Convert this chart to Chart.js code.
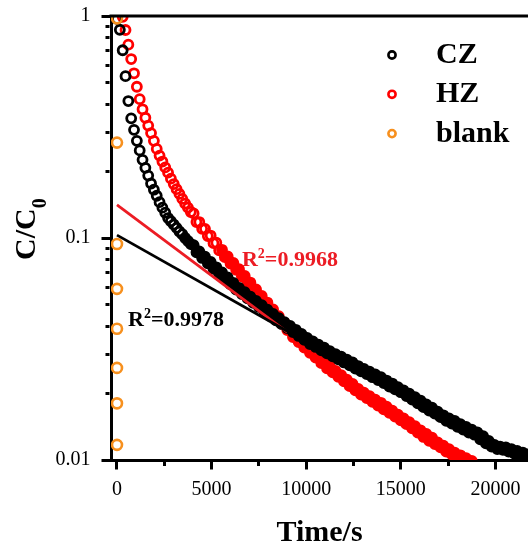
<!DOCTYPE html>
<html>
<head>
<meta charset="utf-8">
<script src="https://cdn.jsdelivr.net/npm/chart.js@4.4.0/dist/chart.umd.min.js"></script>
<style>
  html, body { margin: 0; padding: 0; background: #fff; }
  canvas { display: block; }
</style>
</head>
<body>
<canvas id="chart" width="528" height="552"></canvas>
<script>
// Time (s) vs C/C0 (one row = 10 samples).
// Later points scatter a little around the trend, which is what makes the bands thick.
const czTime = [
  0, 150, 300, 450, 600, 750, 900, 1050, 1200, 1350,
  1500, 1650, 1800, 1950, 2100, 2250, 2400, 2550, 2700, 2850,
  3000, 3150, 3300, 3450, 3600, 3750, 3900, 4050, 4200, 4350,
  4500, 4650, 4800, 4950, 5100, 5250, 5400, 5550, 5700, 5850,
  6000, 6150, 6300, 6450, 6600, 6750, 6900, 7050, 7200, 7350,
  7500, 7650, 7800, 7950, 8100, 8250, 8400, 8550, 8700, 8850,
  9000, 9150, 9300, 9450, 9600, 9750, 9900, 10050, 10200, 10350,
  10500, 10650, 10800, 10950, 11100, 11250, 11400, 11550, 11700, 11850,
  12000, 12150, 12300, 12450, 12600, 12750, 12900, 13050, 13200, 13350,
  13500, 13650, 13800, 13950, 14100, 14250, 14400, 14550, 14700, 14850,
  15000, 15150, 15300, 15450, 15600, 15750, 15900, 16050, 16200, 16350,
  16500, 16650, 16800, 16950, 17100, 17250, 17400, 17550, 17700, 17850,
  18000, 18150, 18300, 18450, 18600, 18750, 18900, 19050, 19200, 19350,
  19500, 19650, 19800, 19950, 20100, 20250, 20400, 20550, 20700, 20850,
  21000, 21150, 21300, 21450, 21600, 21750,
];
const czC = [
  0.97, 0.867, 0.701, 0.536, 0.414, 0.346, 0.307, 0.274, 0.248, 0.225,
  0.207, 0.191, 0.176, 0.165, 0.155, 0.145, 0.137, 0.130, 0.123, 0.119,
  0.115, 0.111, 0.107, 0.104, 0.100, 0.0969, 0.0939, 0.0929, 0.0862, 0.0871,
  0.0813, 0.0824, 0.0769, 0.0780, 0.0727, 0.0738, 0.0690, 0.0700, 0.0653, 0.0664,
  0.0619, 0.0628, 0.0585, 0.0596, 0.0559, 0.0570, 0.0535, 0.0544, 0.0510, 0.0521,
  0.0489, 0.0498, 0.0466, 0.0476, 0.0445, 0.0455, 0.0426, 0.0436, 0.0409, 0.0418,
  0.0393, 0.0402, 0.0377, 0.0386, 0.0362, 0.0370, 0.0348, 0.0355, 0.0333, 0.0342,
  0.0323, 0.0331, 0.0312, 0.0321, 0.0302, 0.0309, 0.0293, 0.0300, 0.0284, 0.0292,
  0.0275, 0.0283, 0.0267, 0.0275, 0.0258, 0.0265, 0.0251, 0.0257, 0.0244, 0.0250,
  0.0236, 0.0243, 0.0229, 0.0236, 0.0222, 0.0228, 0.0214, 0.0221, 0.0208, 0.0213,
  0.0202, 0.0206, 0.0194, 0.0199, 0.0187, 0.0192, 0.0180, 0.0185, 0.0173, 0.0178,
  0.0167, 0.0172, 0.0162, 0.0165, 0.0156, 0.0159, 0.0150, 0.0154, 0.0146, 0.0150,
  0.0141, 0.0145, 0.0137, 0.0141, 0.0133, 0.0137, 0.0130, 0.0133, 0.0124, 0.0128,
  0.0119, 0.0122, 0.0115, 0.0117, 0.0112, 0.0115, 0.0111, 0.0114, 0.0109, 0.0112,
  0.0107, 0.0110, 0.0105, 0.0108, 0.0103, 0.0106,
];

const hzTime = [
  300, 450, 600, 750, 900, 1050, 1200, 1350, 1500, 1650,
  1800, 1950, 2100, 2250, 2400, 2550, 2700, 2850, 3000, 3150,
  3300, 3450, 3600, 3750, 3900, 4050, 4200, 4350, 4500, 4650,
  4800, 4950, 5100, 5250, 5400, 5550, 5700, 5850, 6000, 6150,
  6300, 6450, 6600, 6750, 6900, 7050, 7200, 7350, 7500, 7650,
  7800, 7950, 8100, 8250, 8400, 8550, 8700, 8850, 9000, 9150,
  9300, 9450, 9600, 9750, 9900, 10050, 10200, 10350, 10500, 10650,
  10800, 10950, 11100, 11250, 11400, 11550, 11700, 11850, 12000, 12150,
  12300, 12450, 12600, 12750, 12900, 13050, 13200, 13350, 13500, 13650,
  13800, 13950, 14100, 14250, 14400, 14550, 14700, 14850, 15000, 15150,
  15300, 15450, 15600, 15750, 15900, 16050, 16200, 16350, 16500, 16650,
  16800, 16950, 17100, 17250, 17400, 17550, 17700, 17850, 18000, 18150,
  18300, 18450, 18600, 18750,
];
const hzC = [
  0.991, 0.865, 0.743, 0.640, 0.552, 0.480, 0.422, 0.380, 0.348, 0.321,
  0.297, 0.274, 0.252, 0.235, 0.221, 0.208, 0.197, 0.185, 0.175, 0.166,
  0.158, 0.150, 0.143, 0.137, 0.131, 0.129, 0.118, 0.118, 0.110, 0.110,
  0.102, 0.1026, 0.0948, 0.0953, 0.0880, 0.0885, 0.0820, 0.0827, 0.0767, 0.0773,
  0.0718, 0.0723, 0.0670, 0.0675, 0.0625, 0.0630, 0.0583, 0.0587, 0.0544, 0.0548,
  0.0508, 0.0512, 0.0473, 0.0477, 0.0442, 0.0445, 0.0412, 0.0415, 0.0385, 0.0387,
  0.0358, 0.0363, 0.0340, 0.0344, 0.0321, 0.0326, 0.0304, 0.0309, 0.0289, 0.0293,
  0.0273, 0.0278, 0.0259, 0.0264, 0.0248, 0.0252, 0.0237, 0.0241, 0.0226, 0.0230,
  0.0215, 0.0220, 0.0206, 0.0209, 0.0197, 0.0201, 0.0190, 0.0194, 0.0183, 0.0187,
  0.0176, 0.0181, 0.0169, 0.0174, 0.0163, 0.0167, 0.0157, 0.0160, 0.0151, 0.0154,
  0.0145, 0.0148, 0.0139, 0.0142, 0.0133, 0.0136, 0.0127, 0.0131, 0.0122, 0.0126,
  0.0118, 0.0120, 0.0114, 0.0116, 0.0109, 0.0112, 0.0106, 0.0108, 0.0103, 0.0105,
  0.0099, 0.0102, 0.0096, 0.0099,
];

const blankTime = [0, 0, 0, 0, 0, 0, 0, 0];
const blankC = [0.976, 0.269, 0.094, 0.059, 0.039, 0.026, 0.018, 0.0117];

// Linear fits (straight on the log axis)
const czFitTime = [0, 9500];
const czFitC = [0.103, 0.036];
const hzFitTime = [0, 9000];
const hzFitC = [0.141, 0.0377];

// R^2 labels: [time, C/C0] of the left end of the text baseline
const czR2 = { text: '0.9978', at: [581, 0.0402] };
const hzR2 = { text: '0.9968', at: [6606, 0.0748] };

const xTicks = [0, 2500, 5000, 7500, 10000, 12500, 15000, 17500, 20000];
const xLabels = [0, 5000, 10000, 15000, 20000];
const yTicks = [
  0.01, 0.02, 0.03, 0.04, 0.05, 0.06, 0.07, 0.08, 0.09,
  0.1, 0.2, 0.3, 0.4, 0.5, 0.6, 0.7, 0.8, 0.9, 1,
];
const yLabels = [0.01, 0.1, 1];

const SERIF = "'Liberation Serif', 'Times New Roman', serif";
const BLACK = '#000000';
const RED = '#ff0000';
const FIT_RED = '#ec1c24';
const ORANGE = '#f7901e';

// where the overlapping rings merge into a solid band (s)
const CZ_SOLID_FROM = 3500;
const HZ_SOLID_FROM = 5500;

const toPoints = (xs, ys) => xs.map((x, i) => ({ x, y: ys[i] }));

const ringStyle = (color, solidFrom = Infinity) => ({
  showLine: false,
  pointStyle: 'circle',
  pointRadius: 4.5,
  pointBorderWidth: 2.8,
  pointBorderColor: color,
  pointBackgroundColor: (ctx) => (ctx.raw && ctx.raw.x >= solidFrom ? color : 'rgba(0,0,0,0)'),
  borderColor: color,
  clip: 0,
});

const drawR2 = (ctx, x, y, value, color) => {
  ctx.fillStyle = color;
  ctx.textBaseline = 'alphabetic';
  ctx.textAlign = 'left';
  ctx.font = `bold 22px ${SERIF}`;
  ctx.fillText('R', x, y);
  let w = ctx.measureText('R').width;
  ctx.font = `bold 14px ${SERIF}`;
  ctx.fillText('2', x + w, y - 8);
  w += ctx.measureText('2').width;
  ctx.font = `bold 22px ${SERIF}`;
  ctx.fillText(`=${value}`, x + w, y);
};

// no extra room for the edge tick labels: keep the plot box fixed
const noPad = (scale) => {
  scale.paddingLeft = 0;
  scale.paddingRight = 0;
  scale.paddingTop = 0;
  scale.paddingBottom = 0;
};

// frame top line, y title, R^2 texts and legend
const overlay = {
  id: 'overlay',
  afterDatasetsDraw(chart) {
    const { ctx, chartArea, scales } = chart;
    ctx.save();
    ctx.strokeStyle = BLACK;
    ctx.lineWidth = 3;
    ctx.beginPath();
    ctx.moveTo(chartArea.left - 1.5, chartArea.top);
    ctx.lineTo(chartArea.right, chartArea.top);
    ctx.stroke();

    // y title C/C0 with subscript
    ctx.translate(35, chartArea.top + 244);
    ctx.rotate(-Math.PI / 2);
    ctx.fillStyle = BLACK;
    ctx.textAlign = 'left';
    ctx.textBaseline = 'alphabetic';
    ctx.font = `bold 30px ${SERIF}`;
    ctx.fillText('C/C', 0, 0);
    const w = ctx.measureText('C/C').width;
    ctx.font = `bold 20px ${SERIF}`;
    ctx.fillText('0', w, 11);
    ctx.restore();

    ctx.save();
    [[czR2, BLACK], [hzR2, FIT_RED]].forEach(([lab, color]) => {
      const px = scales.x.getPixelForValue(lab.at[0]);
      const py = scales.y.getPixelForValue(lab.at[1]);
      drawR2(ctx, px, py, lab.text, color);
    });

    // legend
    const items = [['CZ', BLACK], ['HZ', RED], ['blank', ORANGE]];
    items.forEach(([label, color], i) => {
      const base = chartArea.top + 47 + i * 39.3;
      ctx.beginPath();
      ctx.strokeStyle = color;
      ctx.lineWidth = 2.6;
      ctx.arc(chartArea.right - 136, base - 8, 3.6, 0, Math.PI * 2);
      ctx.stroke();
      ctx.fillStyle = BLACK;
      ctx.font = `bold 30px ${SERIF}`;
      ctx.fillText(label, chartArea.right - 92, base);
    });
    ctx.restore();
  },
};

Chart.defaults.font.family = SERIF;
Chart.defaults.color = BLACK;

// eslint-disable-next-line no-undef
const chart = new Chart(document.getElementById('chart'), {
  type: 'scatter',
  data: {
    datasets: [
      {
        label: 'CZ fit',
        data: toPoints(czFitTime, czFitC),
        showLine: true,
        borderColor: BLACK,
        borderWidth: 2.8,
        pointRadius: 0,
        clip: 0,
      },
      {
        label: 'HZ fit',
        data: toPoints(hzFitTime, hzFitC),
        showLine: true,
        borderColor: FIT_RED,
        borderWidth: 2.8,
        pointRadius: 0,
        clip: 0,
      },
      { label: 'blank', data: toPoints(blankTime, blankC), ...ringStyle(ORANGE), pointRadius: 5, pointBorderWidth: 2.6 },
      { label: 'CZ', data: toPoints(czTime, czC), ...ringStyle(BLACK, CZ_SOLID_FROM) },
      { label: 'HZ', data: toPoints(hzTime, hzC), ...ringStyle(RED, HZ_SOLID_FROM) },
    ],
  },
  options: {
    responsive: false,
    animation: false,
    events: [],
    devicePixelRatio: 1,
    layout: { autoPadding: false, padding: { top: 16, right: 0, bottom: 0, left: 0 } },
    plugins: { legend: { display: false }, tooltip: { enabled: false } },
    scales: {
      x: {
        type: 'linear',
        min: -317,
        max: 21723,
        afterBuildTicks: (scale) => { scale.ticks = xTicks.map((value) => ({ value })); },
        afterFit: (scale) => { scale.height = 92; noPad(scale); },
        ticks: {
          autoSkip: false,
          maxRotation: 0,
          padding: 8,
          color: BLACK,
          font: { size: 20 },
          callback: (v) => (xLabels.includes(v) ? String(v) : ''),
        },
        grid: {
          drawOnChartArea: false,
          tickLength: 9.5,
          tickWidth: 3,
          tickColor: BLACK,
          tickBorderDash: (ctx) => (ctx.tick && xLabels.includes(ctx.tick.value) ? [] : [4, 100]),
        },
        border: { display: true, width: 3, color: BLACK },
        title: {
          display: true,
          text: 'Time/s',
          color: BLACK,
          font: { size: 30, weight: 'bold' },
          padding: { top: 0, bottom: 1 },
        },
      },
      y: {
        type: 'logarithmic',
        min: 0.01,
        max: 1,
        afterBuildTicks: (scale) => { scale.ticks = yTicks.map((value) => ({ value })); },
        afterFit: (scale) => { scale.width = 111; noPad(scale); },
        ticks: {
          autoSkip: false,
          padding: 11,
          color: BLACK,
          font: { size: 20 },
          callback: (v) => (yLabels.includes(v) ? String(v) : ''),
        },
        grid: {
          drawOnChartArea: false,
          tickLength: 9.5,
          tickWidth: 3,
          tickColor: BLACK,
          tickBorderDash: (ctx) => (ctx.tick && yLabels.includes(ctx.tick.value) ? [] : [0, 4, 4, 100]),
        },
        border: { display: true, width: 3, color: BLACK },
      },
    },
  },
  plugins: [overlay],
});
</script>
</body>
</html>
